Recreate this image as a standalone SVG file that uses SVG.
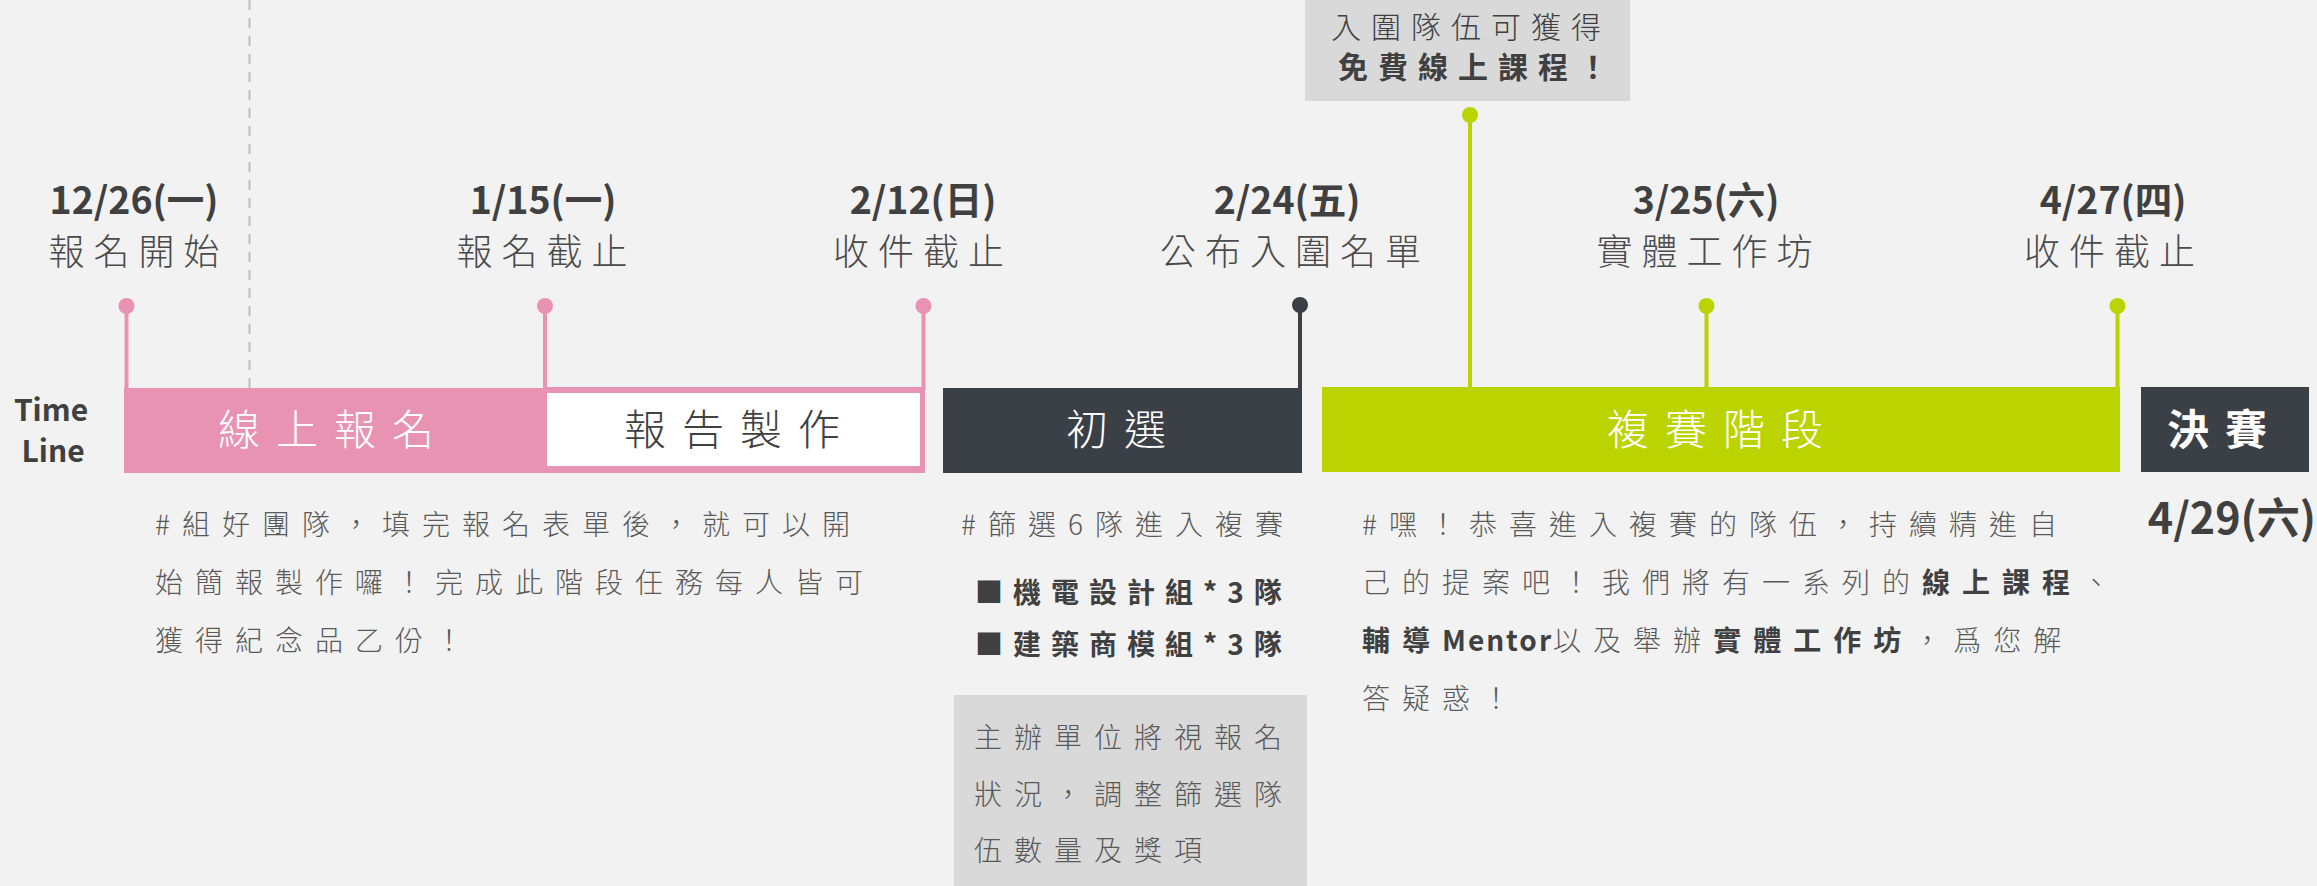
<svg xmlns="http://www.w3.org/2000/svg" width="2317" height="886" viewBox="0 0 2317 886">
<style>
text{font-family:'Noto Sans CJK TC','Noto Sans CJK SC','Noto Sans',sans-serif;}
.date{font-size:37.5px;font-weight:700;fill:#404040;text-anchor:middle;}
.lbl{font-size:36px;font-weight:300;fill:#4a4a4a;letter-spacing:9px;}
.bar{font-size:42px;font-weight:300;letter-spacing:16px;}
.desc{font-size:28px;font-weight:300;fill:#595959;letter-spacing:12px;}
.b{font-weight:700;fill:#404040;}
.pink{fill:#e893b2;}
.pinks{stroke:#e893b2;stroke-width:4;}
.green{fill:#bbd300;}
.greens{stroke:#bbd300;stroke-width:4;}
.dark{fill:#3b3f46;}
.darks{stroke:#3b3f46;stroke-width:4;}
</style>
<rect x="0" y="0" width="2317" height="886" fill="#f2f2f2"/>

<g id="connectors">
<line x1="249.5" y1="0" x2="249.5" y2="388" stroke="#bdbdbd" stroke-width="2" stroke-dasharray="10 8"/>
<line class="pinks" x1="126.5" y1="306" x2="126.5" y2="390"/>
<circle class="pink" cx="126.5" cy="306" r="8"/>
<line class="pinks" x1="545" y1="306" x2="545" y2="390"/>
<circle class="pink" cx="545" cy="306" r="8"/>
<line class="pinks" x1="923.5" y1="306" x2="923.5" y2="390"/>
<circle class="pink" cx="923.5" cy="306" r="8"/>
<line class="darks" x1="1300" y1="305" x2="1300" y2="400"/>
<circle class="dark" cx="1300" cy="305" r="8"/>
<line class="greens" x1="1470" y1="115" x2="1470" y2="390"/>
<circle class="green" cx="1470" cy="115" r="8"/>
<line class="greens" x1="1706.5" y1="306" x2="1706.5" y2="390"/>
<circle class="green" cx="1706.5" cy="306" r="8"/>
<line class="greens" x1="2117.5" y1="306" x2="2117.5" y2="390"/>
<circle class="green" cx="2117.5" cy="306" r="8"/>
</g>

<g id="timeline-label">
<text x="51" y="421" font-size="30" font-weight="700" fill="#404040" text-anchor="middle">Time</text>
<text x="53" y="462" font-size="30" font-weight="700" fill="#404040" text-anchor="middle">Line</text>
</g>

<g id="date-1226">
<text class="date" x="134" y="214">12/26(一)</text>
<text class="lbl" x="48.5" y="265">報名開始</text>
</g>
<g id="date-0115">
<text class="date" x="543" y="214">1/15(一)</text>
<text class="lbl" x="456.5" y="265">報名截止</text>
</g>
<g id="date-0212">
<text class="date" x="923" y="214">2/12(日)</text>
<text class="lbl" x="833" y="265">收件截止</text>
</g>
<g id="date-0224">
<text class="date" x="1287" y="214">2/24(五)</text>
<text class="lbl" x="1160" y="265">公布入圍名單</text>
</g>
<g id="date-0325">
<text class="date" x="1706" y="214">3/25(六)</text>
<text class="lbl" x="1596.5" y="265">實體工作坊</text>
</g>
<g id="date-0427">
<text class="date" x="2113" y="214">4/27(四)</text>
<text class="lbl" x="2024" y="265">收件截止</text>
</g>

<g id="note-course">
<rect x="1305" y="-5" width="325" height="106" fill="#d9d9d9"/>
<text x="1331" y="38" font-size="30" font-weight="300" fill="#404040" letter-spacing="10">入圍隊伍可獲得</text>
<text x="1338" y="78" font-size="30" font-weight="700" fill="#404040" letter-spacing="10">免費線上課程！</text>
</g>

<g id="phase-register">
<rect class="pink" x="124" y="388" width="424" height="85"/>
<text class="bar" x="218" y="445" fill="#ffffff">線上報名</text>
</g>
<g id="phase-report">
<rect class="pink" x="547" y="387" width="378" height="86"/>
<rect x="547" y="393" width="373" height="73" fill="#ffffff"/>
<text class="bar" x="624" y="445" fill="#404040">報告製作</text>
</g>
<g id="phase-prelim">
<rect class="dark" x="943" y="388" width="359" height="85"/>
<text class="bar" x="1066" y="445" fill="#ffffff" letter-spacing="14">初選</text>
</g>
<g id="phase-semifinal">
<rect class="green" x="1322" y="387" width="798" height="85"/>
<text class="bar" x="1607" y="445" fill="#ffffff">複賽階段</text>
</g>
<g id="phase-final">
<rect class="dark" x="2141" y="387" width="168" height="85"/>
<text x="2167" y="445" font-size="42" font-weight="700" fill="#ffffff" letter-spacing="16">決賽</text>
<text x="2232" y="534" font-size="43" font-weight="700" fill="#404040" text-anchor="middle">4/29(六)</text>
</g>

<g id="desc-register">
<text class="desc" x="155" y="535">#組好團隊，填完報名表單後，就可以開</text>
<text class="desc" x="155" y="593">始簡報製作囉！完成此階段任務每人皆可</text>
<text class="desc" x="155" y="651">獲得紀念品乙份！</text>
</g>

<g id="desc-prelim">
<text class="desc" x="961" y="535">#篩選6隊進入複賽</text>
<text x="975" y="603" font-size="28" font-weight="700" fill="#404040" letter-spacing="10">■機電設計組*3隊</text>
<text x="975" y="655" font-size="28" font-weight="700" fill="#404040" letter-spacing="10">■建築商模組*3隊</text>
<rect x="954" y="695" width="353" height="195" fill="#d9d9d9"/>
<text class="desc" x="974" y="748">主辦單位將視報名</text>
<text class="desc" x="974" y="805">狀況，調整篩選隊</text>
<text class="desc" x="974" y="861">伍數量及獎項</text>
</g>

<g id="desc-semifinal">
<text class="desc" x="1362" y="535">#嘿！恭喜進入複賽的隊伍，持續精進自</text>
<text class="desc" x="1362" y="593">己的提案吧！我們將有一系列的<tspan class="b">線上課程</tspan>、</text>
<text class="desc" x="1362" y="651"><tspan class="b">輔導</tspan><tspan class="b" letter-spacing="2">Mentor</tspan>以及舉辦<tspan class="b">實體工作坊</tspan>，爲您解</text>
<text class="desc" x="1362" y="709">答疑惑！</text>
</g>
</svg>
